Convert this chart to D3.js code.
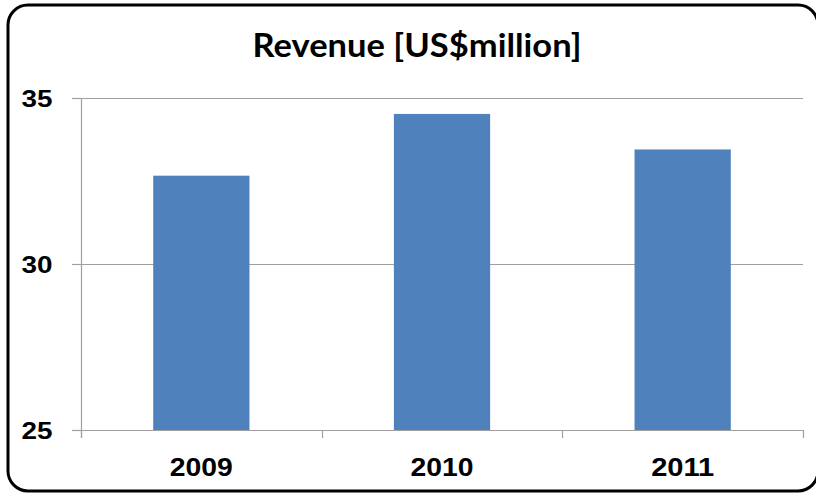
<!DOCTYPE html>
<html>
<head>
<meta charset="utf-8">
<script src="https://cdn.jsdelivr.net/npm/d3@7"></script>
<style>
  html, body { margin: 0; padding: 0; background: #fff; }
  svg { display: block; }
</style>
</head>
<body>
<svg id="chart" width="816" height="496"></svg>
<script>
const title = "Revenue [US$million]";
const categories = ["2009", "2010", "2011"];
const revenue = [32.66, 34.52, 33.45];
const yDomain = [25, 35];
const yTickValues = [25, 30, 35];

const svg = d3.select("#chart");

// outer rounded border
svg.append("rect")
  .attr("x", 8).attr("y", 5)
  .attr("width", 810).attr("height", 486)
  .attr("rx", 20).attr("ry", 20)
  .attr("fill", "#fff")
  .attr("stroke", "#000")
  .attr("stroke-width", 3);

const plot = { left: 81, right: 803, top: 98, bottom: 430 };

const x = d3.scaleBand()
  .domain(categories)
  .range([plot.left, plot.right])
  .paddingInner(0.6)
  .paddingOuter(0.3);

const y = d3.scaleLinear()
  .domain(yDomain)
  .range([plot.bottom, plot.top]);

// gridlines
svg.append("g")
  .selectAll("line")
  .data(yTickValues)
  .join("line")
  .attr("x1", plot.left - 9)
  .attr("x2", plot.right)
  .attr("y1", d => Math.round(y(d)) + 0.5)
  .attr("y2", d => Math.round(y(d)) + 0.5)
  .attr("stroke", "#a0a0a0")
  .attr("stroke-width", 1.2);

// bars
svg.append("g")
  .selectAll("rect")
  .data(categories.map((c, i) => ({ c, v: revenue[i] })))
  .join("rect")
  .attr("x", d => x(d.c))
  .attr("width", x.bandwidth())
  .attr("y", d => y(d.v))
  .attr("height", d => y(yDomain[0]) - y(d.v))
  .attr("fill", "#4f81bd");

// y axis
const yAxis = svg.append("g")
  .attr("transform", `translate(${plot.left + 0.5},0)`)
  .call(d3.axisLeft(y).tickValues(yTickValues).tickSize(9).tickSizeOuter(0).tickPadding(20));
yAxis.select(".domain").attr("stroke", "#a0a0a0").attr("stroke-width", 1.2)
  .attr("d", `M0,${plot.top}V${plot.bottom + 8}`);
yAxis.selectAll(".tick line").attr("stroke", "#a0a0a0").attr("stroke-width", 1.2);
yAxis.selectAll(".tick text")
  .attr("fill", "#000")
  .style("font-family", "'Liberation Sans', Arial, sans-serif")
  .style("font-weight", "bold")
  .style("font-size", "23px")
  .attr("dy", "0.36em")
  .attr("textLength", 31)
  .attr("lengthAdjust", "spacingAndGlyphs");

// x axis: ticks at band boundaries
const boundaries = categories.map(c => x(c) - x.step() * x.paddingInner() / 2);
boundaries[0] = plot.left;
boundaries.push(plot.right);
svg.append("g")
  .selectAll("line")
  .data(boundaries)
  .join("line")
  .attr("x1", d => Math.round(d) + 0.5)
  .attr("x2", d => Math.round(d) + 0.5)
  .attr("y1", plot.bottom)
  .attr("y2", plot.bottom + 8)
  .attr("stroke", "#a0a0a0")
  .attr("stroke-width", 1.2);

svg.append("g")
  .selectAll("text")
  .data(categories)
  .join("text")
  .attr("x", d => x(d) + x.bandwidth() / 2)
  .attr("y", 476)
  .attr("text-anchor", "middle")
  .style("font-family", "'Liberation Sans', Arial, sans-serif")
  .style("font-weight", "bold")
  .style("font-size", "26px")
  .attr("textLength", 63)
  .attr("lengthAdjust", "spacingAndGlyphs")
  .text(d => d);

// title
svg.append("text")
  .attr("x", 417)
  .attr("y", 57)
  .attr("text-anchor", "middle")
  .style("font-family", "Lato, 'Open Sans', sans-serif")
  .style("font-weight", "bold")
  .style("font-size", "32px")
  .attr("textLength", 329)
  .attr("lengthAdjust", "spacingAndGlyphs")
  .text(title);
</script>
</body>
</html>
